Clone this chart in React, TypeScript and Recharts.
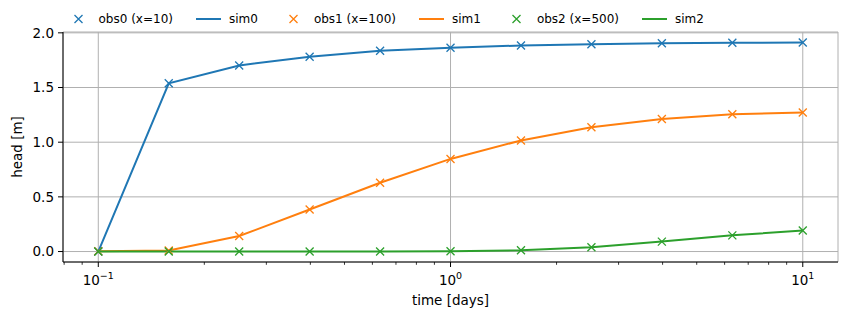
import React from 'react';
import { ComposedChart, Line, XAxis, YAxis, CartesianGrid, Label } from 'recharts';

const times = [0.1, 0.1585, 0.2512, 0.3981, 0.631, 1, 1.585, 2.512, 3.981, 6.31, 10];
const obs0 = [0, 1.539, 1.702, 1.781, 1.836, 1.864, 1.884, 1.896, 1.905, 1.909, 1.912];
const sim0 = [0, 1.539, 1.702, 1.781, 1.836, 1.864, 1.884, 1.896, 1.905, 1.909, 1.912];
const obs1 = [0.002, 0.01, 0.142, 0.384, 0.629, 0.847, 1.016, 1.137, 1.212, 1.255, 1.271];
const sim1 = [0.002, 0.01, 0.142, 0.384, 0.629, 0.847, 1.016, 1.137, 1.212, 1.255, 1.271];
const obs2 = [0, 0, 0, 0, 0.001, 0.003, 0.012, 0.039, 0.091, 0.148, 0.193];
const sim2 = [0, 0, 0, 0, 0.001, 0.003, 0.012, 0.039, 0.091, 0.148, 0.193];

const xMajorTicks = [0.1, 1, 10];
const xMinorTicks = [0.08, 0.09, 0.2, 0.3, 0.4, 0.5, 0.6, 0.7, 0.8, 0.9, 2, 3, 4, 5, 6, 7, 8, 9];
const xAllTicks = [...xMinorTicks, ...xMajorTicks].sort((a, b) => a - b);
const yTicks = [0, 0.5, 1, 1.5, 2];
const xDomain = [0.0794, 12.59];
const yDomain = [-0.0956, 2.0076];

const BLUE = '#1f77b4';
const ORANGE = '#ff7f0e';
const GREEN = '#2ca02c';

const series = [
  { key: 'obs0', name: 'obs0 (x=10)', color: BLUE, kind: 'obs' },
  { key: 'sim0', name: 'sim0', color: BLUE, kind: 'sim' },
  { key: 'obs1', name: 'obs1 (x=100)', color: ORANGE, kind: 'obs' },
  { key: 'sim1', name: 'sim1', color: ORANGE, kind: 'sim' },
  { key: 'obs2', name: 'obs2 (x=500)', color: GREEN, kind: 'obs' },
  { key: 'sim2', name: 'sim2', color: GREEN, kind: 'sim' },
];

const data = times.map((t, i) => ({
  t,
  obs0: obs0[i],
  sim0: sim0[i],
  obs1: obs1[i],
  sim1: sim1[i],
  obs2: obs2[i],
  sim2: sim2[i],
}));

const FONT = '"DejaVu Sans", sans-serif';
const FS = 13.5;

const xPath = (cx: number, cy: number, r: number) =>
  `M${cx - r},${cy - r}L${cx + r},${cy + r}M${cx - r},${cy + r}L${cx + r},${cy - r}`;

const makeDot = (color: string) => (p: any) => {
  const { cx, cy, index } = p;
  if (cx == null || cy == null) return <g key={index} />;
  return <path key={index} d={xPath(cx, cy, 4)} stroke={color} strokeWidth={1.3} fill="none" />;
};

const XTick = (props: any) => {
  const { x, y, payload } = props;
  const v = payload.value;
  const isMajor = xMajorTicks.some((m) => Math.abs(m - v) < 1e-9);
  if (!isMajor) {
    return <line x1={x} x2={x} y1={y} y2={y + 2.8} stroke="#000" strokeWidth={0.8} />;
  }
  const exp = Math.round(Math.log10(v));
  const expStr = exp < 0 ? '\u2212' + Math.abs(exp) : String(exp);
  return (
    <g>
      <line x1={x} x2={x} y1={y} y2={y + 5} stroke="#000" strokeWidth={1} />
      <text x={x} y={y + 23} textAnchor="middle" fontSize={FS} fontFamily={FONT} fill="#000">
        10<tspan dy={-6} fontSize={9.5}>{expStr}</tspan>
      </text>
    </g>
  );
};

const EmptyTick = () => <g />;

const YLabel = (props: any) => {
  const vb = props.viewBox;
  const cx = vb.x + 17;
  const cy = vb.y + vb.height / 2;
  return (
    <text x={cx} y={cy} transform={`rotate(-90 ${cx} ${cy})`} textAnchor="middle" dominantBaseline="central" fontSize={FS} fontFamily={FONT} fill="#000">
      head [m]
    </text>
  );
};

const XLabel = (props: any) => {
  const vb = props.viewBox;
  const cx = vb.x + vb.width / 2;
  const cy = vb.y + 38;
  return (
    <text x={cx} y={cy} textAnchor="middle" dominantBaseline="central" fontSize={FS} fontFamily={FONT} fill="#000">
      time [days]
    </text>
  );
};

const LegendHandle = ({ kind, color }: { kind: string; color: string }) => (
  <svg width={25} height={14} style={{ display: 'block' }}>
    {kind === 'obs' ? (
      <path d={xPath(12.5, 7, 4)} stroke={color} strokeWidth={1.3} fill="none" />
    ) : (
      <line x1={0} x2={25} y1={7} y2={7} stroke={color} strokeWidth={2} />
    )}
  </svg>
);

export default function App() {
  return (
    <div style={{ position: 'absolute', left: 0, top: 0, width: 846, height: 318, background: '#fff', fontFamily: FONT }}>
      <ComposedChart width={846} height={318} data={data} margin={{ top: 32, right: 8, left: 0, bottom: 0 }}>
        <CartesianGrid xAxisId="top" stroke="#b0b0b0" strokeWidth={1} />
        <XAxis
          dataKey="t"
          type="number"
          scale="log"
          domain={xDomain}
          allowDataOverflow
          ticks={xAllTicks}
          interval={0}
          height={56}
          axisLine={{ stroke: '#000', strokeWidth: 1 }}
          tickLine={false}
          tickSize={0}
          tickMargin={0}
          tick={<XTick />}
        >
          <Label content={<XLabel />} />
        </XAxis>
        <XAxis
          xAxisId="top"
          orientation="top"
          dataKey="t"
          type="number"
          scale="log"
          domain={xDomain}
          allowDataOverflow
          ticks={xMajorTicks}
          interval={0}
          height={0}
          tick={<EmptyTick />}
          tickLine={false}
          axisLine={{ stroke: '#000', strokeWidth: 1 }}
        />
        <YAxis
          type="number"
          domain={yDomain}
          allowDataOverflow
          ticks={yTicks}
          interval={0}
          width={63}
          tickFormatter={(v: number) => v.toFixed(1)}
          tickSize={5}
          tickMargin={4}
          tickLine={{ stroke: '#000', strokeWidth: 1 }}
          axisLine={{ stroke: '#000', strokeWidth: 1 }}
          tick={{ fontSize: FS, fill: '#000', fontFamily: FONT }}
        >
          <Label content={<YLabel />} />
        </YAxis>
        <YAxis
          yAxisId="right"
          orientation="right"
          type="number"
          domain={yDomain}
          allowDataOverflow
          width={0}
          tick={false}
          tickLine={false}
          axisLine={{ stroke: '#000', strokeWidth: 1 }}
        />
        {series.map((s) =>
          s.kind === 'obs' ? (
            <Line
              key={s.key}
              dataKey={s.key}
              name={s.name}
              stroke="none"
              dot={makeDot(s.color)}
              activeDot={false}
              isAnimationActive={false}
            />
          ) : (
            <Line
              key={s.key}
              dataKey={s.key}
              name={s.name}
              type="linear"
              stroke={s.color}
              strokeWidth={2}
              dot={false}
              activeDot={false}
              isAnimationActive={false}
            />
          )
        )}
      </ComposedChart>
      <div style={{ position: 'absolute', left: 65.5, top: 12, display: 'flex', alignItems: 'center', height: 14 }}>
        {series.map((s) => (
          <div key={s.key} style={{ display: 'flex', alignItems: 'center', marginRight: 23 }}>
            <LegendHandle kind={s.kind} color={s.color} />
            <span style={{ marginLeft: 8, fontSize: 12, color: '#000', fontFamily: FONT, whiteSpace: 'nowrap', lineHeight: '14px' }}>{s.name}</span>
          </div>
        ))}
      </div>
    </div>
  );
}
